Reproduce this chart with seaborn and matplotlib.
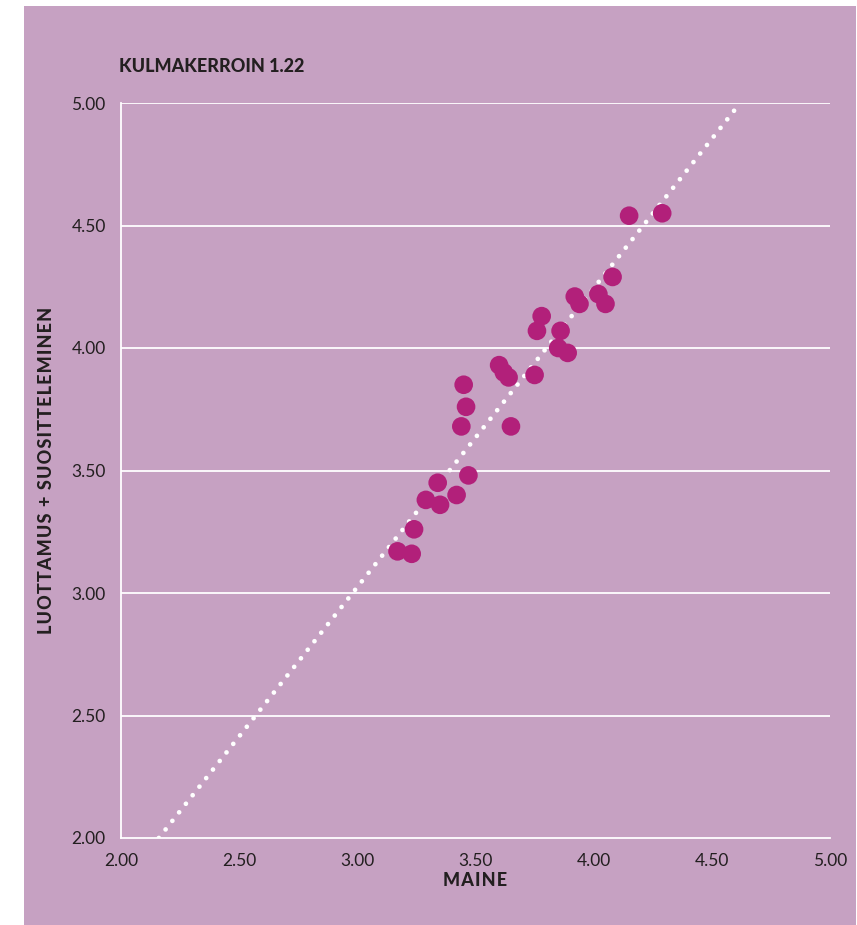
import matplotlib
matplotlib.use("Agg")
import matplotlib.pyplot as plt
import seaborn as sns
import pandas as pd
from matplotlib.patches import Rectangle

# maine (x) vs luottamus + suositteleminen (y)
maine = [3.17, 3.23, 3.24, 3.29, 3.34, 3.35, 3.42, 3.47, 3.44, 3.45, 3.46,
         3.65, 3.60, 3.62, 3.64, 3.75, 3.76, 3.78, 3.85, 3.86, 3.89,
         3.92, 3.94, 4.02, 4.05, 4.08, 4.15, 4.29]
luottamus = [3.17, 3.16, 3.26, 3.38, 3.45, 3.36, 3.40, 3.48, 3.68, 3.85, 3.76,
             3.68, 3.93, 3.90, 3.88, 3.89, 4.07, 4.13, 4.00, 4.07, 3.98,
             4.21, 4.18, 4.22, 4.18, 4.29, 4.54, 4.55]

# trend line, slope 1.22
trend_x = [2.16, 4.62]
trend_y = [2.00, 5.00]

ticks = [2.0, 2.5, 3.0, 3.5, 4.0, 4.5, 5.0]
tick_labels = ["2.00", "2.50", "3.00", "3.50", "4.00", "4.50", "5.00"]

bg = "#c6a1c2"
dot = "#b2207a"
txt = "#231f20"

sns.set_theme(style="white")
plt.rcParams['font.family'] = ['Lato', 'DejaVu Sans']

fig = plt.figure(figsize=(8.57, 9.25), dpi=100)
fig.patch.set_facecolor("white")
fig.patches.append(Rectangle((24 / 857, 0), 1 - 24 / 857 - 1 / 857, 1 - 6 / 925,
                             transform=fig.transFigure, facecolor=bg,
                             edgecolor="none", zorder=-10))

ax = fig.add_axes([121 / 857, 1 - 838 / 925, (830 - 121) / 857, (838 - 103) / 925])
ax.set_facecolor("none")

df = pd.DataFrame({"maine": maine, "luottamus": luottamus})

for t in ticks[1:]:
    ax.axhline(t, color="white", lw=1.3, zorder=1)

ax.plot(trend_x, trend_y, color="white", lw=3.4, linestyle=(0, (0.01, 2.3)),
        dash_capstyle="round", zorder=2)

sns.scatterplot(data=df, x="maine", y="luottamus", s=180, color=dot,
                edgecolor="none", linewidth=0, ax=ax, zorder=3)

ax.set_xlim(2.0, 5.0)
ax.set_ylim(2.0, 5.0)
ax.set_xticks(ticks)
ax.set_xticklabels(tick_labels)
ax.set_yticks(ticks)
ax.set_yticklabels(tick_labels)
ax.tick_params(axis="both", colors="white", length=6, width=1.3, direction="out",
               labelsize=12.5, labelcolor=txt, pad=5)

for side in ["top", "right"]:
    ax.spines[side].set_visible(False)
for side in ["left", "bottom"]:
    ax.spines[side].set_color("white")
    ax.spines[side].set_linewidth(1.3)
ax.spines["bottom"].set_zorder(1)


def spaced(s):
    # the reference uses wide letter spacing on the axis titles
    return "\u200a".join(s)


ax.set_xlabel(spaced("MAINE"), fontsize=13, fontweight=900, color=txt, labelpad=2)
ax.set_ylabel(spaced("LUOTTAMUS + SUOSITTELEMINEN"), fontsize=13, fontweight=900,
              color=txt, labelpad=12)

fig.text(119 / 857, 1 - 66 / 925, "KULMAKERROIN 1.22", fontsize=13,
         fontweight=900, color=txt, va="center", ha="left")

fig.savefig("out.png", dpi=100)
